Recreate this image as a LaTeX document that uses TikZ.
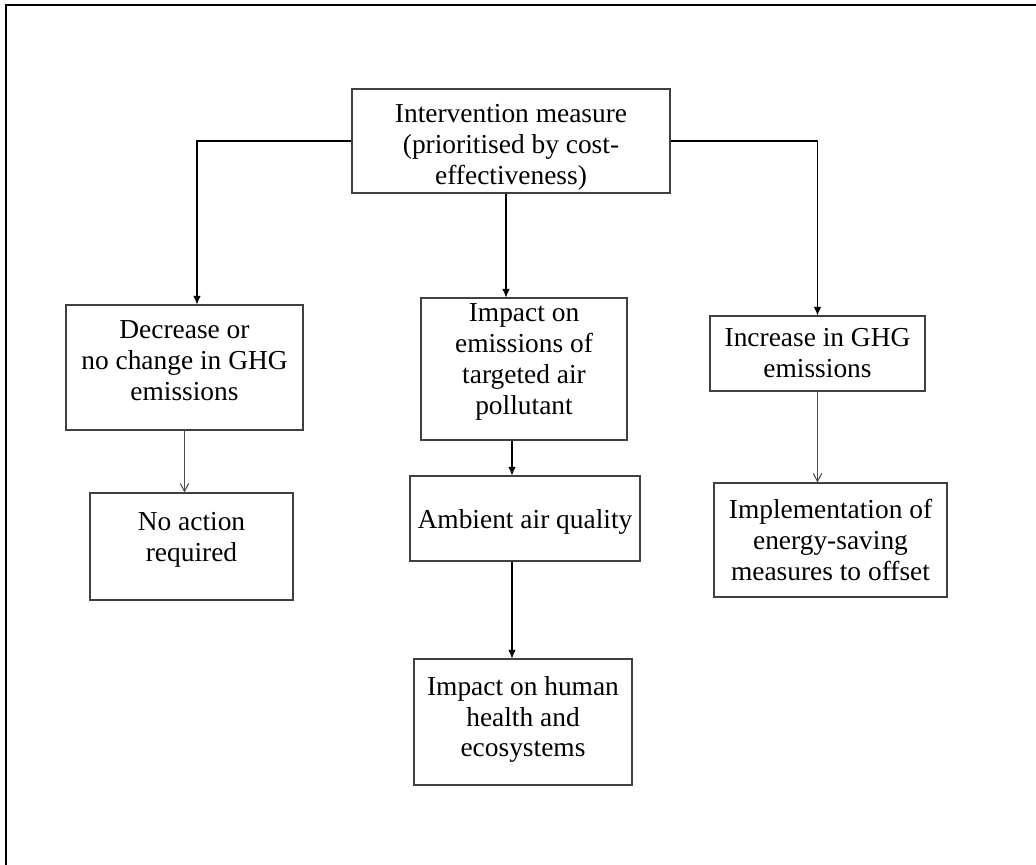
\documentclass[tikz,border=0pt]{standalone}
\usepackage{fontspec}
\setmainfont{Liberation Serif}
\usepackage{tikz}
\usetikzlibrary{arrows.meta}
\usetikzlibrary{positioning}

\begin{document}
\begin{tikzpicture}[
  box/.style={draw=black!75,line width=0.6pt,inner sep=0pt},
  txt/.style={align=center,inner sep=0pt,font=\fontsize{15.6pt}{17.6pt}\selectfont},
  ptr/.style={-{Latex[length=0.17cm,width=0.15cm]},line width=0.6pt},
  optr/.style={-{Straight Barb[length=0.16cm,width=0.17cm]},line width=0.6pt,draw=black!70}
]
\useasboundingbox (0,0) rectangle (20.72,-17.3);
% frame
\draw[line width=1.1pt] (0.12,-17.3) -- (0.12,-0.1) -- (20.72,-0.1);
% Top
\node[box,minimum width=6.36cm,minimum height=2.08cm,
  label={[txt,yshift=-0.12cm]center:{Intervention measure\\(prioritised by cost-\\effectiveness)}}]
  (iv) at (10.22,-2.82) {};
% Level 1
\node[box,minimum width=4.74cm,minimum height=2.50cm,
  label={[txt,yshift=0.13cm]center:{Decrease or\\no change in GHG\\emissions}}]
  (dec) at (3.69,-7.35) {};
\node[box,minimum width=4.12cm,minimum height=2.84cm,
  label={[txt,yshift=0.14cm]center:{Impact on\\emissions of\\targeted air\\pollutant}}]
  (imp) at (10.48,-7.38) {};
\node[box,minimum width=4.30cm,minimum height=1.50cm,
  label={[txt]center:{Increase in GHG\\emissions}}]
  (inc) at (16.35,-7.07) {};
% Level 2
\node[box,minimum width=4.06cm,minimum height=2.14cm,
  label={[txt,yshift=0.14cm]center:{No action\\required}}]
  (noact) at (3.83,-10.93) {};
\node[box,minimum width=4.60cm,minimum height=1.70cm,
  label={[txt,yshift=-0.06cm]center:{Ambient air quality}}]
  (amb) at (10.50,-10.37) {};
\node[box,minimum width=4.66cm,minimum height=2.28cm,
  label={[txt]center:{Implementation of\\energy-saving\\measures to offset}}]
  (impl) at (16.61,-10.80) {};
% Level 3
\node[box,minimum width=4.36cm,minimum height=2.52cm,
  label={[txt,yshift=0.05cm]center:{Impact on human\\health and\\ecosystems}}]
  (hum) at (10.46,-14.44) {};

\draw[ptr] (iv.west) -| ([xshift=0.25cm]dec.north);
\draw[ptr] (iv.east) -| (inc.north);
\draw[ptr] ([xshift=-0.1cm]iv.south) -- ([xshift=-0.1cm]iv.south |- imp.north);
\draw[ptr] ([xshift=-0.24cm]imp.south) -- ([xshift=-0.24cm]imp.south |- amb.north);
\draw[ptr] ([xshift=-0.26cm]amb.south) -- ([xshift=-0.26cm]amb.south |- hum.north);
\draw[optr] (dec.south) -- (dec.south |- noact.north);
\draw[optr] (inc.south) -- (inc.south |- impl.north);
\end{tikzpicture}
\end{document}
